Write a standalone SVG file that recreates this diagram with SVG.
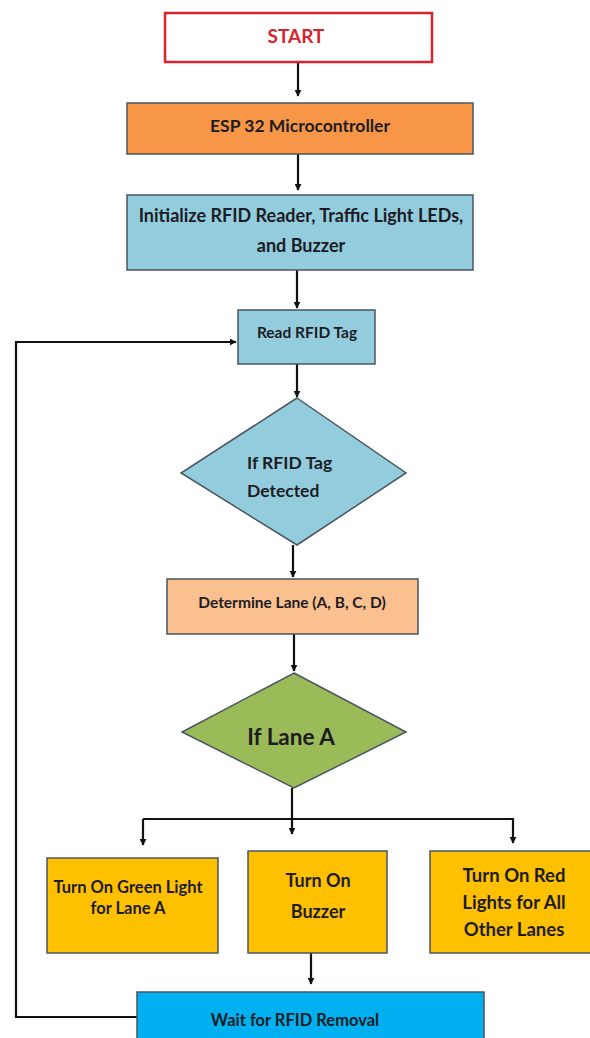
<svg xmlns="http://www.w3.org/2000/svg" width="590" height="1038" viewBox="0 0 590 1038">
<defs>
<marker id="ah" viewBox="0 0 10 10" refX="9" refY="5" markerWidth="7" markerHeight="7" markerUnits="userSpaceOnUse" orient="auto"><path d="M0,0 L10,5 L0,10 z" fill="#111"/></marker>
<style>
text{font-family:Lato,"Liberation Sans",sans-serif;font-weight:bold;fill:#1c1c24;text-anchor:middle}
.box{stroke:#4a5560;stroke-width:1.5}
.c{fill:none;stroke:#111;stroke-width:2.2}
</style>
</defs>
<rect width="590" height="1038" fill="#fff"/>
<g id="connectors">
<line class="c" x1="298" y1="62" x2="298" y2="96" marker-end="url(#ah)"/>
<line class="c" x1="298" y1="154" x2="298" y2="190" marker-end="url(#ah)"/>
<line class="c" x1="297" y1="270" x2="297" y2="308" marker-end="url(#ah)"/>
<line class="c" x1="297" y1="364" x2="297" y2="397" marker-end="url(#ah)"/>
<line class="c" x1="293" y1="545" x2="293" y2="577" marker-end="url(#ah)"/>
<line class="c" x1="294" y1="634" x2="294" y2="671" marker-end="url(#ah)"/>
<polyline class="c" points="292,788 292,819"/>
<polyline class="c" points="143,819 513,819 513,843" marker-end="url(#ah)"/>
<line class="c" x1="143" y1="819" x2="143" y2="845" marker-end="url(#ah)"/>
<line class="c" x1="292" y1="819" x2="292" y2="834" marker-end="url(#ah)"/>
<line class="c" x1="311" y1="953" x2="311" y2="984" marker-end="url(#ah)"/>
<polyline class="c" points="137,1017 16,1017 16,342 236,342" marker-end="url(#ah)"/>
</g>
<g id="start">
<rect x="165" y="13" width="267" height="49" fill="#fff" stroke="#d9232e" stroke-width="2.5"/>
<text x="296" y="43" font-size="19" style="fill:#d9232e">START</text>
</g>
<g id="esp32">
<rect class="box" x="127" y="103" width="346" height="51" fill="#f79646"/>
<text x="300" y="132" font-size="17.5">ESP 32 Microcontroller</text>
</g>
<g id="init">
<rect class="box" x="127" y="195" width="346" height="75" fill="#93cddd"/>
<text x="301" y="222" font-size="18">Initialize RFID Reader, Traffic Light LEDs,</text>
<text x="301" y="252" font-size="18">and Buzzer</text>
</g>
<g id="read">
<rect class="box" x="238" y="310" width="137" height="54" fill="#93cddd"/>
<text x="307" y="338" font-size="15.5">Read RFID Tag</text>
</g>
<g id="detected">
<polygon class="box" points="297,398 406,473 297,545 181,473" fill="#93cddd"/>
<text x="247" y="469" font-size="17.5" style="text-anchor:start">If RFID Tag</text>
<text x="247" y="497" font-size="17.5" style="text-anchor:start">Detected</text>
</g>
<g id="lane">
<rect class="box" x="167" y="579" width="251" height="55" fill="#fac090"/>
<text x="292" y="608" font-size="15.5">Determine Lane (A, B, C, D)</text>
</g>
<g id="laneA">
<polygon class="box" points="294,673 406,732 294,788 182,732" fill="#9bbb59"/>
<text x="291" y="745" font-size="22.5">If Lane A</text>
</g>
<g id="green">
<rect class="box" x="47" y="858" width="171" height="95" fill="#ffc000"/>
<text x="128" y="893" font-size="16.5">Turn On Green Light</text>
<text x="128" y="914" font-size="16.5">for Lane A</text>
</g>
<g id="buzzer">
<rect class="box" x="248" y="851" width="139" height="102" fill="#ffc000"/>
<text x="318" y="887" font-size="18">Turn On</text>
<text x="318" y="918" font-size="18">Buzzer</text>
</g>
<g id="red">
<rect class="box" x="430" y="851" width="162" height="102" fill="#ffc000"/>
<text x="514" y="882" font-size="18.5">Turn On Red</text>
<text x="514" y="909" font-size="18.5">Lights for All</text>
<text x="514" y="936" font-size="18.5">Other Lanes</text>
</g>
<g id="wait">
<rect class="box" x="137" y="992" width="347" height="60" fill="#00b0f0"/>
<text x="295" y="1026" font-size="16.5">Wait for RFID Removal</text>
</g>
</svg>
